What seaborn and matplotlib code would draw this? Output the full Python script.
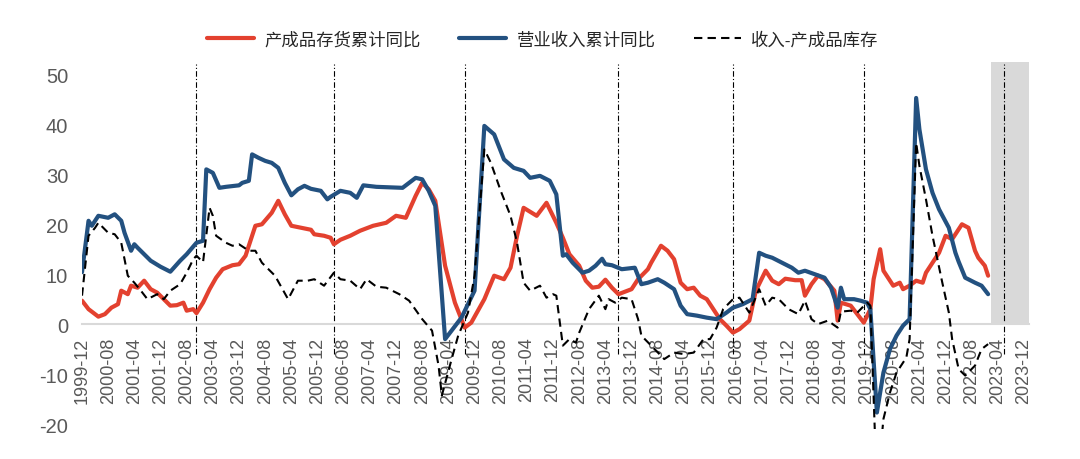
import pandas as pd
import numpy as np
import seaborn as sns
import matplotlib.pyplot as plt

#%% data, x = months since 1999-12

red_m = [0, 2, 5, 7, 9, 11, 12, 14, 15, 17, 19, 21, 23, 25, 27, 29, 31, 32, 34, 35,
         37, 39, 41, 43, 46, 48, 50, 52, 53, 55, 58, 60, 62, 64, 67, 70, 71, 74, 76, 77,
         79, 82, 85, 89, 93, 96, 99, 102, 104, 106, 108, 111, 114, 117, 119, 123, 126, 129, 131, 133,
         135, 139, 142, 145, 147, 149, 152, 154, 156, 158, 160, 162, 164, 168, 170, 173, 174, 177, 179, 181,
         183, 185, 187, 189, 191, 193, 195, 197, 199, 201, 204, 206, 209, 211, 213, 215, 218, 220, 221, 223,
         225, 227, 230, 231, 232, 235, 237, 239, 241, 242, 244, 245, 247, 248, 250, 251, 253, 255, 257, 258,
         260, 262, 264, 266, 267, 269, 271, 273, 274, 276, 277]
red_v = [4.7, 3.0, 1.5, 2.0, 3.3, 4.0, 6.7, 6.0, 7.7, 7.3, 8.7, 7.0, 6.3, 5.0, 3.7, 3.8, 4.3, 2.7, 3.0, 2.2,
         4.3, 7.0, 9.3, 11.0, 11.8, 12.0, 13.7, 17.7, 19.7, 20.0, 22.3, 24.7, 22.0, 19.7, 19.3, 18.9, 18.0, 17.7, 17.3, 16.0,
         16.9, 17.7, 18.7, 19.7, 20.3, 21.7, 21.3, 25.7, 28.3, 27.0, 24.7, 11.7, 4.3, -0.7, 0.3, 5.0, 9.7, 9.0, 11.3, 17.7,
         23.3, 21.7, 24.3, 20.3, 17.3, 14.0, 11.7, 8.7, 7.3, 7.5, 8.9, 7.3, 6.0, 7.0, 9.0, 11.0, 12.3, 15.7, 14.7, 13.0,
         8.3, 7.0, 7.3, 5.7, 5.0, 3.0, 1.0, -0.3, -1.7, -1.0, 0.7, 6.7, 10.7, 8.7, 8.0, 9.1, 8.8, 8.8, 5.7, 8.0,
         9.7, 9.0, 6.7, 0.7, 4.3, 3.7, 2.0, 0.3, 3.0, 9.0, 15.0, 10.7, 8.7, 7.7, 8.3, 7.0, 7.7, 8.7, 8.3, 10.3,
         12.3, 14.3, 17.7, 17.0, 18.0, 20.0, 19.3, 14.7, 13.3, 11.7, 9.7]

blue_m = [0, 2, 3, 5, 8, 10, 12, 13, 15, 16, 17, 21, 24, 27, 30, 32, 35, 37, 38, 40,
          42, 44, 48, 49, 51, 52, 54, 56, 58, 60, 62, 64, 66, 68, 70, 73, 75, 76, 79, 82,
          84, 86, 90, 98, 102, 104, 106, 108, 111, 116, 120, 123, 126, 129, 132, 135, 137, 140, 143, 145,
          147, 148, 150, 153, 155, 157, 159, 160, 162, 165, 169, 171, 173, 176, 178, 181, 183, 185, 188, 191,
          194, 197, 199, 202, 205, 207, 209, 211, 214, 217, 219, 221, 224, 227, 229, 231, 232, 233, 236, 238,
          240, 241, 243, 245, 247, 249, 251, 253, 255, 256, 258, 260, 262, 265, 267, 268, 270, 273, 275, 277]
blue_v = [10.4, 20.7, 19.7, 21.7, 21.3, 22.0, 20.7, 18.3, 14.7, 16.0, 15.3, 12.7, 11.5, 10.5, 12.7, 14.0, 16.3, 16.7, 31.0, 30.3,
          27.3, 27.5, 27.8, 28.3, 28.7, 34.0, 33.3, 32.7, 32.3, 31.3, 28.3, 25.8, 27.0, 27.7, 27.1, 26.7, 25.0, 25.5, 26.7, 26.3,
          25.3, 27.8, 27.5, 27.3, 29.3, 29.0, 26.7, 23.7, -3.0, 1.3, 6.7, 39.7, 38.0, 33.0, 31.3, 30.7, 29.3, 29.7, 28.7, 26.0,
          13.7, 14.0, 12.3, 10.3, 10.7, 11.7, 13.1, 12.0, 11.8, 11.0, 11.3, 8.0, 8.3, 9.0, 8.3, 7.0, 3.7, 2.0, 1.7, 1.3,
          1.0, 2.3, 3.3, 4.0, 5.0, 14.3, 13.7, 13.3, 12.3, 11.3, 10.3, 10.7, 10.0, 9.3, 7.3, 3.3, 7.3, 5.0, 5.0, 4.7,
          4.3, 3.0, -17.7, -9.7, -5.0, -2.3, -0.3, 1.0, 45.3, 39.0, 31.0, 26.3, 23.0, 19.3, 14.3, 12.5, 9.3, 8.3, 7.7, 6.0]

gap_m = [0, 2, 4, 5, 8, 10, 12, 14, 16, 18, 20, 23, 25, 27, 30, 32, 34, 35, 37, 39,
         40, 41, 44, 46, 48, 51, 53, 55, 59, 63, 66, 69, 71, 74, 77, 79, 82, 85, 87, 90,
         93, 97, 100, 104, 107, 109, 110, 113, 115, 118, 120, 123, 125, 128, 131, 133, 135, 137, 140, 142,
         144, 145, 147, 149, 151, 152, 155, 158, 160, 161, 163, 165, 168, 170, 171, 174, 178, 181, 184, 187,
         190, 192, 194, 196, 199, 201, 202, 204, 207, 209, 211, 213, 216, 219, 221, 223, 225, 228, 231, 232,
         235, 237, 240, 241, 243, 245, 247, 249, 252, 253, 255, 256, 258, 260, 263, 265, 266, 268, 270, 273,
         275, 277]
gap_v = [5.7, 17.7, 19.3, 20.3, 18.3, 18.0, 16.3, 9.7, 8.3, 6.7, 5.0, 6.0, 5.0, 6.7, 8.0, 10.3, 13.0, 13.7, 12.4, 23.3,
         21.7, 17.7, 16.3, 15.7, 16.0, 14.7, 14.7, 12.3, 9.7, 5.0, 8.7, 8.7, 9.0, 7.7, 10.3, 9.0, 8.7, 7.0, 9.0, 7.5,
         7.3, 6.0, 4.7, 1.0, -1.3, -8.3, -14.3, -7.0, -2.3, 2.3, 9.7, 35.0, 32.3, 26.7, 21.7, 16.3, 8.3, 6.7, 7.7, 5.3,
         6.0, 5.7, -4.3, -3.0, -3.7, -1.7, 3.0, 5.7, 3.0, 5.0, 4.3, 5.3, 5.0, 1.0, -2.3, -4.3, -7.0, -5.7, -6.0, -5.7,
         -3.0, -3.0, -0.7, 3.0, 5.0, 5.3, 4.3, 2.3, 7.0, 3.7, 5.3, 5.0, 3.0, 2.0, 4.7, 1.0, 0.0, 0.7, -0.7, 2.5,
         2.7, 2.3, 4.3, 3.7, -33.0, -19.0, -13.7, -9.7, -6.7, -3.0, 36.3, 31.7, 25.0, 17.7, 8.3, 2.3, -3.0, -9.0, -10.3, -8.3,
         -5.0, -4.0]

labels = ['产成品存货累计同比', '营业收入累计同比', '收入-产成品库存']
cycle_marks = [35, 77, 117, 164, 199, 239, 282]   # dash-dot separators (months since 1999-12)
tick_m = list(range(0, 289, 8))
tick_lab = [str(pd.Period('1999-12', 'M') + m) for m in tick_m]

red_df = pd.DataFrame({'m': red_m, 'v': red_v})
blue_df = pd.DataFrame({'m': blue_m, 'v': blue_v})
gap_df = pd.DataFrame({'m': gap_m, 'v': gap_v})

#%% plot

sns.set_style('white')
plt.rcParams['font.family'] = ['Liberation Sans', 'Noto Sans CJK SC', 'DejaVu Sans']
plt.rcParams['axes.unicode_minus'] = False

fig = plt.figure(figsize=(10.8, 4.6), dpi=100)
ax = fig.add_axes([82 / 1080, 1 - 430 / 460, 947 / 1080, 367 / 460])

# forecast window
ax.fill_between([278, 289.5], 0, 52.5, color='#D9D9D9', lw=0, zorder=0)
ax.vlines(cycle_marks, -6, 52, colors='black', lw=0.8,
          linestyles=[(0, (5, 2, 1, 2))], zorder=1, clip_on=False)

sns.lineplot(data=red_df, x='m', y='v', color='#E3412F', lw=3, ax=ax, label=labels[0], zorder=3)
sns.lineplot(data=blue_df, x='m', y='v', color='#235180', lw=3, ax=ax, label=labels[1], zorder=4)
sns.lineplot(data=gap_df, x='m', y='v', color='black', lw=1.5, ax=ax, label=labels[2],
             linestyle=(0, (4, 2.5)), zorder=5)

handles, labs = ax.get_legend_handles_labels()
if ax.get_legend() is not None:
    ax.get_legend().remove()
fig.legend(handles, labs, loc='center', bbox_to_anchor=(543 / 1080, 1 - 40 / 460), ncol=3,
           frameon=False, fontsize=12.5, handlelength=2.7, handletextpad=0.6, columnspacing=2.2)

ax.set_xlim(0, 289.5)
ax.set_ylim(-21, 52.5)
ax.set_xlabel('')
ax.set_ylabel('')

for s in ['top', 'right', 'left']:
    ax.spines[s].set_visible(False)
ax.spines['bottom'].set_position(('data', 0))
ax.spines['bottom'].set_color('#D9D9D9')
ax.spines['bottom'].set_linewidth(1.5)

ax.set_xticks(tick_m)
ax.set_xticklabels(tick_lab, rotation=90)
ax.tick_params(axis='x', colors='#D9D9D9', length=5, width=1, direction='out', pad=4,
               labelcolor='#595959', labelsize=13)
ax.set_yticks(range(-20, 51, 10))
ax.tick_params(axis='y', length=0, pad=10, labelcolor='#595959', labelsize=14.5)

fig.savefig('out.png', dpi=100)
